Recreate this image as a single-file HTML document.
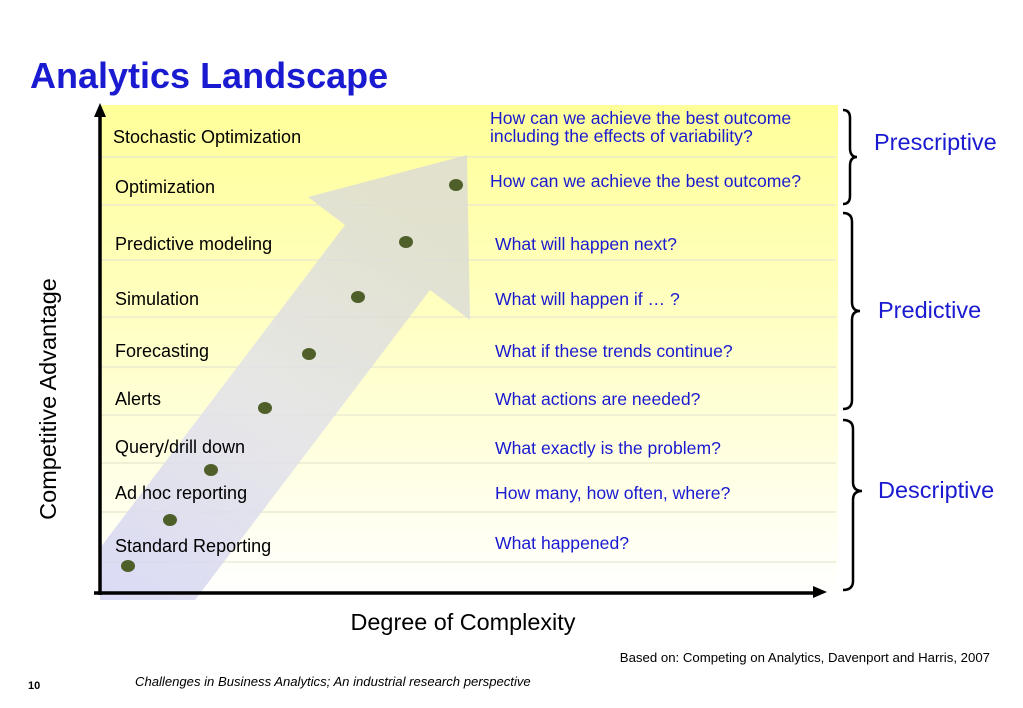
<!DOCTYPE html>
<html><head><meta charset="utf-8">
<style>
body{margin:0;width:1023px;height:708px;background:#fff;overflow:hidden;font-family:"Liberation Sans",Arial,sans-serif;}
svg{position:absolute;left:0;top:0}
</style></head>
<body>
<svg width="1023" height="708" viewBox="0 0 1023 708">
<defs>
<linearGradient id="bg" x1="0" y1="0" x2="0" y2="1">
<stop offset="0" stop-color="#ffff99"/><stop offset="0.45" stop-color="#ffffc4"/><stop offset="1" stop-color="#ffffff"/>
</linearGradient>
<linearGradient id="ar" x1="0" y1="1" x2="0.6" y2="0">
<stop offset="0" stop-color="#d4d4f4"/><stop offset="0.5" stop-color="#e2e2ea"/><stop offset="1" stop-color="#dcdcd4"/>
</linearGradient>
</defs>
<text x="30" y="88" font-size="36" font-weight="bold" fill="#1a1ad0">Analytics Landscape</text>
<rect x="100" y="105" width="738" height="488" fill="url(#bg)"/>
<g id="lines"></g>
<polygon points="100,548 345,225 308,197 467,155 470,320 430,290 195,600 100,600" fill="url(#ar)" opacity="0.85"/>
<g id="rows"></g>
<g id="dots"></g>
<line x1="100" y1="595" x2="100" y2="115" stroke="#000" stroke-width="3.5"/>
<polygon points="100,103 94,117 106,117" fill="#000"/>
<line x1="94" y1="593" x2="815" y2="593" stroke="#000" stroke-width="3.5"/>
<polygon points="827,592 813,586 813,598" fill="#000"/>
<text x="463" y="630" font-size="23.4" text-anchor="middle" fill="#000">Degree of Complexity</text>
<text transform="translate(56,399) rotate(-90)" font-size="23.5" text-anchor="middle" fill="#000">Competitive Advantage</text>
<g fill="none" stroke="#000" stroke-width="2.5">
<path d="M843,110 Q850,110 850,118 L850,148 Q850,157 857,157 Q850,157 850,166 L850,196 Q850,204 843,204"/>
<path d="M843,213 Q852,213 852,222 L852,302 Q852,311 860,311 Q852,311 852,320 L852,400 Q852,409 843,409"/>
<path d="M843,420 Q853,420 853,429 L853,482 Q853,491 862,491 Q853,491 853,500 L853,581 Q853,590 843,590"/>
</g>
<g font-size="23.5" fill="#1a1ad0">
<text x="874" y="150">Prescriptive</text>
<text x="878" y="318">Predictive</text>
<text x="878" y="498">Descriptive</text>
</g>
<text x="990" y="662" font-size="13.2" text-anchor="end" fill="#000">Based on:  Competing on Analytics, Davenport and Harris, 2007</text>
<text x="28" y="689" font-size="11" font-weight="bold" fill="#000">10</text>
<text x="135" y="686" font-size="13.1" font-style="italic" fill="#000">Challenges in Business Analytics; An industrial research perspective</text>
</svg>
<script>
const categories=["Stochastic Optimization","Optimization","Predictive modeling","Simulation","Forecasting","Alerts","Query/drill down","Ad hoc reporting","Standard Reporting"];
const questions=[["How can we achieve the best outcome","including the effects of variability?"],["How can we achieve the best outcome?"],["What will happen next?"],["What will happen if … ?"],["What if these trends continue?"],["What actions are needed?"],["What exactly is the problem?"],["How many, how often, where?"],["What happened?"]];
const labelY=[143,193,250,305,357,405,453,499,552];
const questionY=[[124,142],[187],[250],[305],[357],[405],[454],[499],[549]];
const rowLineY=[157,205,260,317,367,415,463,512,562];
const dotX=[456,406,358,309,265,211,170,128];
const dotY=[185,242,297,354,408,470,520,566];
const ns="http://www.w3.org/2000/svg";
const lines=document.getElementById('lines');
const rows=document.getElementById('rows');
const dots=document.getElementById('dots');
function mk(t,a,p){const e=document.createElementNS(ns,t);for(const k in a)e.setAttribute(k,a[k]);p.appendChild(e);return e;}
rowLineY.forEach((y,i)=>{
const l=mk('line',{x1:100,x2:836,y1:y,y2:y,stroke:'#e6e6d0','stroke-width':1.2},lines);


});
categories.forEach((c,i)=>{
const t=mk('text',{x:i==0?113:115,y:labelY[i],'font-size':18,fill:'#000'},rows);
t.textContent=c;


questions[i].forEach((q,j)=>{
const tq=mk('text',{x:i<2?490:495,y:questionY[i][j],'font-size':17.6,fill:'#1a1ad0'},rows);
tq.textContent=q;


});
});
dotX.forEach((x,i)=>{
const d=mk('ellipse',{cx:x,cy:dotY[i],rx:7,ry:6,fill:'#4f5f2a'},dots);


});
</script>
</body></html>
